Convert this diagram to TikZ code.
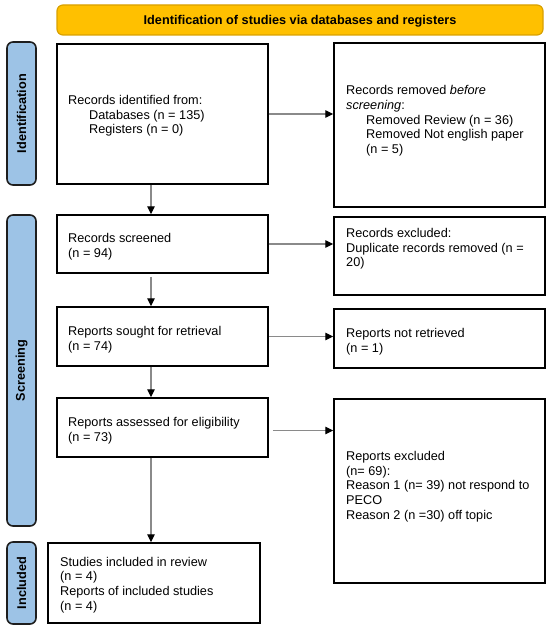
\documentclass[tikz,border=0pt]{standalone}
\usepackage{fontspec}
\setmainfont{Liberation Sans}
\usetikzlibrary{arrows.meta,calc}
\definecolor{hdrfill}{HTML}{FFC000}
\definecolor{hdrdraw}{HTML}{D9A100}
\definecolor{barfill}{HTML}{9DC3E6}
\definecolor{bardraw}{HTML}{1E1E1E}
\definecolor{arrgray}{HTML}{8A8A8A}
\tikzset{
  box/.style={draw=black, line width=1.5pt, fill=white, inner sep=0pt},
  sidebar/.style={draw=bardraw, line width=1.6pt, fill=barfill, rounded corners=6pt, inner sep=0pt},
  header/.style={draw=hdrdraw, line width=1.2pt, fill=hdrfill, rounded corners=6pt, inner sep=0pt},
  txt/.style={anchor=west, align=left, inner sep=0pt, font=\fontsize{12.7}{14.7}\selectfont},
  bartxt/.style={rotate=90, inner sep=0pt, font=\fontsize{12.7}{14.7}\selectfont\bfseries},
  flow/.style={draw=arrgray, line width=1.2pt, -{Triangle[length=8pt,width=7.5pt,color=black]}}
}
\begin{document}
\begin{tikzpicture}[x=1pt,y=-1pt]
\useasboundingbox (0,0) rectangle (550,631);
% header
\node[header, minimum width=486pt, minimum height=30pt] (hdr) at (300,20) {};
\node[inner sep=0pt, font=\fontsize{12.7}{14.7}\selectfont\bfseries] (hdrt) at (300,21) {Identification of studies via databases and registers};
% side bars
\node[sidebar, minimum width=29pt, minimum height=143pt] (sid) at (21.5,113.5) {};
\node[bartxt] (sidt) at (21.5,113.5) {Identification};
\node[sidebar, minimum width=29pt, minimum height=311pt] (sscr) at (21.5,370.5) {};
\node[bartxt] (sscrt) at (21.5,370.5) {Screening};
\node[sidebar, minimum width=29pt, minimum height=82pt] (sinc) at (21.5,583) {};
\node[bartxt] (sinct) at (21.5,583) {Included};
% left boxes
\node[box, minimum width=211pt, minimum height=140pt] (b1) at (162.5,114) {};
\node[box, minimum width=211pt, minimum height=58pt] (b2) at (162.5,244) {};
\node[box, minimum width=211pt, minimum height=59pt] (b3) at (162.5,336.5) {};
\node[box, minimum width=211pt, minimum height=59pt] (b4) at (162.5,427.5) {};
\node[box, minimum width=212pt, minimum height=80pt] (b5) at (154,583) {};
% right boxes
\node[box, minimum width=211pt, minimum height=164pt] (r1) at (439.5,125) {};
\node[box, minimum width=211pt, minimum height=78pt] (r2) at (439.5,256) {};
\node[box, minimum width=211pt, minimum height=59pt] (r3) at (439.5,338.5) {};
\node[box, minimum width=211pt, minimum height=184pt] (r4) at (439.5,491) {};
% texts
\node[txt] (b1t) at (68,116) {Records identified from:\\\hspace*{21pt}Databases (n = 135)\\\hspace*{21pt}Registers (n = 0)};
\node[txt] (r1t) at (346,121) {Records removed \textit{before}\\\textit{screening}:\\\hspace*{20pt}Removed Review (n = 36)\\\hspace*{20pt}Removed Not english paper\\\hspace*{20pt}(n = 5)};
\node[txt] (b2t) at (68,247) {Records screened\\(n = 94)};
\node[txt] (r2t) at (346,249) {Records excluded:\\Duplicate records removed (n =\\20)};
\node[txt] (b3t) at (68,339.5) {Reports sought for retrieval\\(n = 74)};
\node[txt] (r3t) at (346,341.5) {Reports not retrieved\\(n = 1)};
\node[txt] (b4t) at (68,431) {Reports assessed for eligibility\\(n = 73)};
\node[txt] (r4t) at (346,486.5) {Reports excluded\\(n= 69):\\Reason 1 (n= 39) not respond to\\PECO\\Reason 2 (n =30) off topic};
\node[txt] (b5t) at (60,585) {Studies included in review\\(n = 4)\\Reports of included studies\\(n = 4)};
% connectors
\coordinate (ax) at (151,0);
\draw[flow] (b1.south -| ax) -- (b2.north -| ax);
\draw[flow] ($(b2.south -| ax)+(0,3)$) -- (b3.north -| ax);
\draw[flow] (b3.south -| ax) -- (b4.north -| ax);
\draw[flow] (b4.south -| ax) -- (b5.north -| ax);
\draw[flow] (b1.east) -- (b1.east -| r1.west);
\draw[flow] (b2.east) -- (b2.east -| r2.west);
\draw[flow] (b3.east) -- (b3.east -| r3.west);
\draw[flow] ($(b4.east)+(4,3)$) -- ($(b4.east -| r4.west)+(0,3)$);
\end{tikzpicture}
\end{document}
